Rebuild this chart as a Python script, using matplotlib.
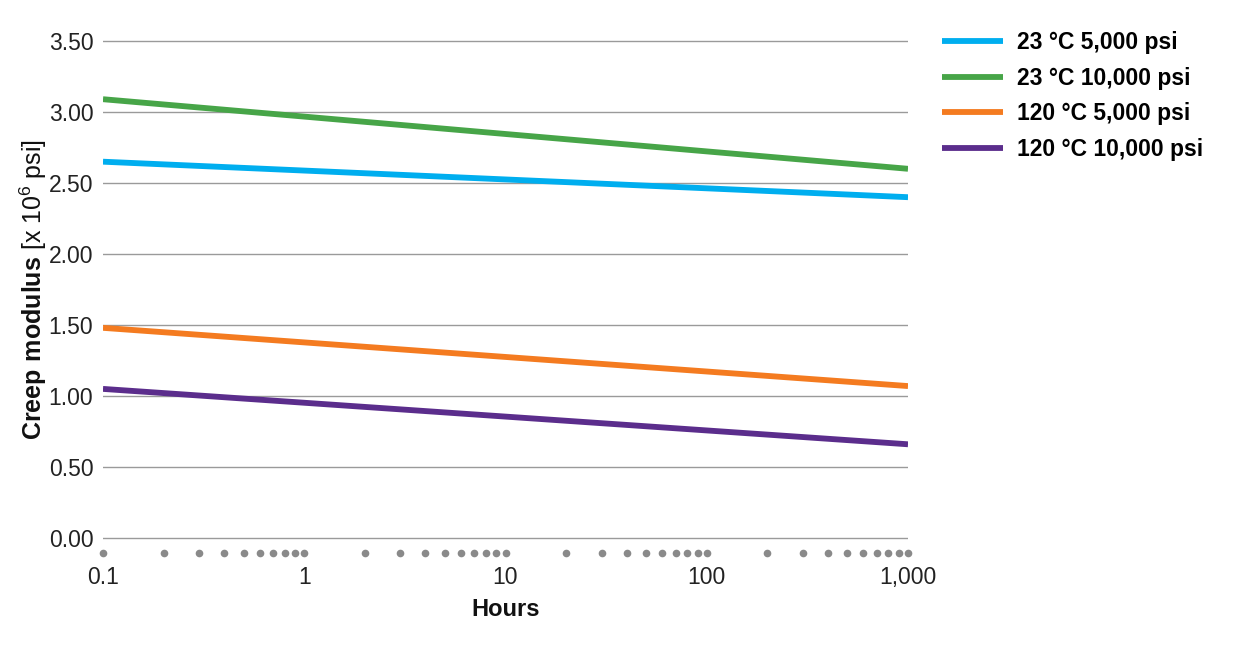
import matplotlib.pyplot as plt
from matplotlib.ticker import LogLocator, FuncFormatter, NullFormatter

plt.rcParams['font.family'] = ['Liberation Sans', 'DejaVu Sans']
plt.rcParams['mathtext.fontset'] = 'custom'
plt.rcParams['mathtext.rm'] = 'Liberation Sans'
plt.rcParams['mathtext.bf'] = 'Liberation Sans:bold'

# data
hours = [0.1, 1000]
series_names = ['23 °C 5,000 psi', '23 °C 10,000 psi',
                '120 °C 5,000 psi', '120 °C 10,000 psi']
blue_23_5k = [2.65, 2.40]
green_23_10k = [3.09, 2.60]
orange_120_5k = [1.48, 1.07]
purple_120_10k = [1.05, 0.66]
series_values = [blue_23_5k, green_23_10k, orange_120_5k, purple_120_10k]
colors = ['#00aeef', '#47a548', '#f47b20', '#5b2d8c']
y_ticks = [0.0, 0.5, 1.0, 1.5, 2.0, 2.5, 3.0, 3.5]

fig = plt.figure(figsize=(12.5, 6.65), dpi=100)
ax = fig.add_axes([103/1250, 1 - 540/665, 805/1250, (540-39)/665])

for vals, name, c in zip(series_values, series_names, colors):
    ax.plot(hours, vals, color=c, lw=4.2, label=name, solid_capstyle='butt')

ax.set_xscale('log')
ax.set_xlim(0.1, 1000)
ax.set_ylim(-0.014, 3.514)
ax.set_yticks(y_ticks)
ax.set_yticklabels(['%.2f' % v for v in y_ticks])
ax.yaxis.grid(True, color='#9a9a9a', lw=1)
ax.set_axisbelow(True)

for s in ax.spines.values():
    s.set_visible(False)

ax.xaxis.set_major_locator(LogLocator(base=10, numticks=10))
ax.xaxis.set_minor_locator(LogLocator(base=10, subs=range(2, 10), numticks=10))
ax.xaxis.set_major_formatter(FuncFormatter(lambda v, p: '{:,g}'.format(v)))
ax.xaxis.set_minor_formatter(NullFormatter())

# grey dots at every major and minor tick, just below the zero line
lo, hi = ax.get_xlim()
dot_x = [v for v in list(ax.xaxis.get_majorticklocs()) + list(ax.xaxis.get_minorticklocs())
         if lo * 0.999 <= v <= hi * 1.001]
ax.plot(dot_x, [-0.026] * len(dot_x), 'o', color='#8a8a8a', ms=5.5, mew=0,
        transform=ax.get_xaxis_transform(), clip_on=False)

ax.tick_params(axis='x', which='both', length=0, pad=19, labelsize=16.5, labelcolor='#222222')
ax.tick_params(axis='y', length=0, pad=7, labelsize=16.5, labelcolor='#222222')

ax.set_xlabel('Hours', fontsize=17, fontweight='bold', color='#111111', labelpad=6)
ax.set_ylabel(r'$\mathbf{Creep\ modulus}$ [x 10$^6$ psi]', fontsize=18,
              color='#111111', labelpad=0)

fig.legend(loc='upper left', bbox_to_anchor=(942/1250, 1 - 31/665),
           frameon=False, prop={'size': 16.5, 'weight': 'bold'},
           handlelength=2.66, handletextpad=0.6,
           labelspacing=0.55, borderpad=0, borderaxespad=0)

plt.savefig('out.png', dpi=100)
